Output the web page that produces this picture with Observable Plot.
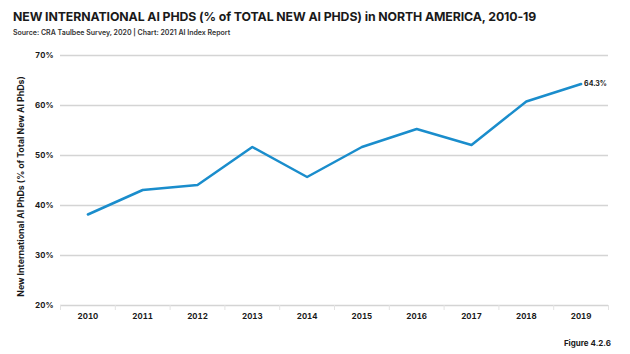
<!DOCTYPE html>
<html><head><meta charset="utf-8">
<script src="https://cdn.jsdelivr.net/npm/d3@7"></script>
<script src="https://cdn.jsdelivr.net/npm/@observablehq/plot@0.6"></script>
<style>
body{margin:0;background:#fff;font-family:Inter,"DejaVu Sans",sans-serif;color:#1a1a1a;}
#wrap{position:relative;width:630px;height:354px;overflow:hidden;}
#title{position:absolute;left:13px;top:9px;font-size:12.3px;font-weight:700;white-space:nowrap;letter-spacing:-0.1px;}
#sub{position:absolute;left:13px;top:28px;font-size:7px;font-weight:600;white-space:nowrap;color:#333;}
#fig{position:absolute;right:19px;top:338px;font-size:8px;font-weight:700;}
#chart{position:absolute;left:0;top:40px;}
</style></head>
<body><div id="wrap">
<div id="title">NEW INTERNATIONAL AI PHDS (% of TOTAL NEW AI PHDS) in NORTH AMERICA, 2010-19</div>
<div id="sub">Source: CRA Taulbee Survey, 2020 | Chart: 2021 AI Index Report</div>
<div id="chart"></div>
<div id="fig">Figure 4.2.6</div>
</div>
<script>
const years = [2010, 2011, 2012, 2013, 2014, 2015, 2016, 2017, 2018, 2019];
const shares = [38.2, 43.1, 44.1, 51.7, 45.7, 51.7, 55.3, 52.1, 60.8, 64.3];
const yTicks = [20, 30, 40, 50, 60, 70];
const yLabel = "New International AI PhDs (% of Total New AI PhDs)";

const data = years.map((y, i) => ({year: y, share: shares[i]}));
const bounds = [...years.map(y => y - 0.5), years[years.length - 1] + 0.5];
const last = data[data.length - 1];

const chart = Plot.plot({
  width: 630,
  height: 300,
  marginTop: 15,
  marginBottom: 35,
  marginLeft: 60,
  marginRight: 22,
  style: {fontFamily: "Inter, 'DejaVu Sans', sans-serif", color: "#1a1a1a", background: "#fff", overflow: "visible"},
  x: {type: "linear", domain: [years[0] - 0.5, years[years.length - 1] + 0.5]},
  y: {domain: [20, 70]},
  marks: [
    Plot.gridY(yTicks, {stroke: "#d4d4d4", strokeOpacity: 1, strokeWidth: 1.4}),
    Plot.axisY(yTicks, {tickSize: 0, tickPadding: 7, tickFormat: d => d + "%", fontWeight: 700, fontSize: 8,
      label: null}),
    Plot.axisX(bounds, {tickSize: 5, stroke: "#e3e3e3", text: null, label: null}),
    Plot.axisX(years, {tickSize: 0, tickPadding: 8, tickFormat: d => String(d), fontWeight: 700, fontSize: 8, label: null}),
    Plot.text([yLabel], {frameAnchor: "left", textAnchor: "middle", dx: -39, dy: 6, rotate: -90, fontWeight: 700, fontSize: 8.8, text: d => d}),
    Plot.line(data, {x: "year", y: "share", stroke: "#1a8dcc", strokeWidth: 2.5}),
    Plot.text([last], {x: "year", y: "share", text: d => d.share.toFixed(1) + "%", dx: 3, textAnchor: "start", fontWeight: 700, fontSize: 7})
  ]
});
document.getElementById("chart").appendChild(chart);
</script>
</body></html>
